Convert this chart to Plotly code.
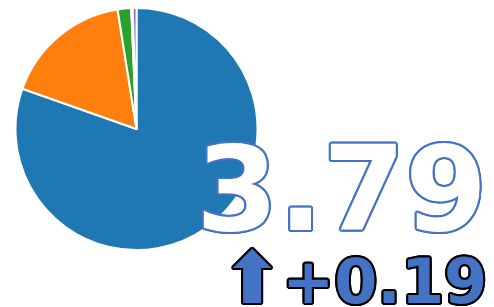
import plotly.graph_objects as go

labels = ["A", "B", "C", "D", "E"]
shares = [80.4, 17.1, 1.8, 0.2, 0.5]
kpi_value = 3.79
kpi_reference = 3.60

offsets = [(2, 0), (-2, 0), (0, 2), (0, -2), (1, 1), (-1, -1), (1, -1), (-1, 1),
           (2, 1), (-2, 1), (2, -1), (-2, -1), (1, 2), (-1, 2), (1, -2), (-1, -2)]
blue_outline = ", ".join(f"{dx}px {dy}px 0 #4472c4" for dx, dy in offsets)
black_outline = ", ".join(f"{dx}px {dy}px 0 #000000" for dx, dy in offsets)

fig = go.Figure()
fig.add_trace(go.Pie(
    labels=labels, values=shares, sort=False, direction="clockwise", rotation=0,
    textinfo="none", hoverinfo="label+percent",
    marker=dict(colors=["#1f77b4", "#ff7f0e", "#2ca02c", "#d62728", "#9467bd"],
                line=dict(color="white", width=2)),
    domain=dict(x=[7/494, 250/494], y=[1-242/307, 1]),
    showlegend=False,
))
fig.add_trace(go.Indicator(
    mode="number+delta", value=kpi_value,
    number=dict(valueformat=".2f",
                font=dict(family="DejaVu Sans", size=118, weight="bold", color="white",
                          shadow=blue_outline)),
    delta=dict(reference=kpi_reference, position="bottom", valueformat=".2f",
               increasing=dict(symbol='<span style="font-size:72px">⬆</span>+', color="#4472c4"),
               font=dict(family="DejaVu Sans", size=62, weight="bold", shadow=black_outline)),
    align="right",
    domain=dict(x=[0.1, 0.97], y=[0.0, 0.58]),
))
fig.update_layout(width=494, height=307, margin=dict(l=0, r=0, t=0, b=0),
                  paper_bgcolor="white", plot_bgcolor="white")
fig.write_html("out.html")
